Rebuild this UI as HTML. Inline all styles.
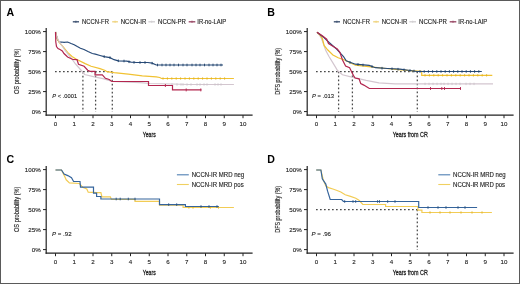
<!DOCTYPE html>
<html><head><meta charset="utf-8"><style>
html,body{margin:0;padding:0;background:#fff;}
#wrap{position:relative;width:520px;height:284px;overflow:hidden;background:#fff;box-sizing:border-box;border:1px solid #5a5a5a;}
svg{position:absolute;left:-1px;top:-1px;will-change:transform;filter:blur(0.3px);}
text{font-family:"Liberation Sans", sans-serif;}
</style></head><body><div id="wrap">
<svg width="520" height="284" viewBox="0 0 520 284" font-family='"Liberation Sans", sans-serif'>
<text x="6.6" y="15.6" font-size="10.6" text-anchor="start" fill="#000" font-weight="bold" >A</text>
<text x="267.3" y="15.6" font-size="10.6" text-anchor="start" fill="#000" font-weight="bold" >B</text>
<text x="6.4" y="162.6" font-size="10.6" text-anchor="start" fill="#000" font-weight="bold" >C</text>
<text x="267.3" y="162.6" font-size="10.6" text-anchor="start" fill="#000" font-weight="bold" >D</text>
<line x1="46.2" y1="27.9" x2="46.2" y2="115.8" stroke="#222" stroke-width="1.2"/>
<line x1="45.6" y1="115.2" x2="252.6" y2="115.2" stroke="#222" stroke-width="1.2"/>
<line x1="43" y1="31.6" x2="46.2" y2="31.6" stroke="#222" stroke-width="1"/>
<text x="40.7" y="33.9" font-size="6.2" text-anchor="end" fill="#1e1e1e" font-weight="normal" stroke="#1e1e1e" stroke-width="0.12">100%</text>
<line x1="43" y1="51.6" x2="46.2" y2="51.6" stroke="#222" stroke-width="1"/>
<text x="40.7" y="53.9" font-size="6.2" text-anchor="end" fill="#1e1e1e" font-weight="normal" stroke="#1e1e1e" stroke-width="0.12">75%</text>
<line x1="43" y1="71.6" x2="46.2" y2="71.6" stroke="#222" stroke-width="1"/>
<text x="40.7" y="73.89999999999999" font-size="6.2" text-anchor="end" fill="#1e1e1e" font-weight="normal" stroke="#1e1e1e" stroke-width="0.12">50%</text>
<line x1="43" y1="91.6" x2="46.2" y2="91.6" stroke="#222" stroke-width="1"/>
<text x="40.7" y="93.89999999999999" font-size="6.2" text-anchor="end" fill="#1e1e1e" font-weight="normal" stroke="#1e1e1e" stroke-width="0.12">25%</text>
<line x1="43" y1="111.6" x2="46.2" y2="111.6" stroke="#222" stroke-width="1"/>
<text x="40.7" y="113.89999999999999" font-size="6.2" text-anchor="end" fill="#1e1e1e" font-weight="normal" stroke="#1e1e1e" stroke-width="0.12">0%</text>
<line x1="55.5" y1="115.2" x2="55.5" y2="118.2" stroke="#222" stroke-width="1"/>
<text x="55.5" y="126.4" font-size="6.2" text-anchor="middle" fill="#1e1e1e" font-weight="normal" stroke="#1e1e1e" stroke-width="0.12">0</text>
<line x1="74.25" y1="115.2" x2="74.25" y2="118.2" stroke="#222" stroke-width="1"/>
<text x="74.25" y="126.4" font-size="6.2" text-anchor="middle" fill="#1e1e1e" font-weight="normal" stroke="#1e1e1e" stroke-width="0.12">1</text>
<line x1="93.0" y1="115.2" x2="93.0" y2="118.2" stroke="#222" stroke-width="1"/>
<text x="93.0" y="126.4" font-size="6.2" text-anchor="middle" fill="#1e1e1e" font-weight="normal" stroke="#1e1e1e" stroke-width="0.12">2</text>
<line x1="111.75" y1="115.2" x2="111.75" y2="118.2" stroke="#222" stroke-width="1"/>
<text x="111.75" y="126.4" font-size="6.2" text-anchor="middle" fill="#1e1e1e" font-weight="normal" stroke="#1e1e1e" stroke-width="0.12">3</text>
<line x1="130.5" y1="115.2" x2="130.5" y2="118.2" stroke="#222" stroke-width="1"/>
<text x="130.5" y="126.4" font-size="6.2" text-anchor="middle" fill="#1e1e1e" font-weight="normal" stroke="#1e1e1e" stroke-width="0.12">4</text>
<line x1="149.25" y1="115.2" x2="149.25" y2="118.2" stroke="#222" stroke-width="1"/>
<text x="149.25" y="126.4" font-size="6.2" text-anchor="middle" fill="#1e1e1e" font-weight="normal" stroke="#1e1e1e" stroke-width="0.12">5</text>
<line x1="168.0" y1="115.2" x2="168.0" y2="118.2" stroke="#222" stroke-width="1"/>
<text x="168.0" y="126.4" font-size="6.2" text-anchor="middle" fill="#1e1e1e" font-weight="normal" stroke="#1e1e1e" stroke-width="0.12">6</text>
<line x1="186.75" y1="115.2" x2="186.75" y2="118.2" stroke="#222" stroke-width="1"/>
<text x="186.75" y="126.4" font-size="6.2" text-anchor="middle" fill="#1e1e1e" font-weight="normal" stroke="#1e1e1e" stroke-width="0.12">7</text>
<line x1="205.5" y1="115.2" x2="205.5" y2="118.2" stroke="#222" stroke-width="1"/>
<text x="205.5" y="126.4" font-size="6.2" text-anchor="middle" fill="#1e1e1e" font-weight="normal" stroke="#1e1e1e" stroke-width="0.12">8</text>
<line x1="224.25" y1="115.2" x2="224.25" y2="118.2" stroke="#222" stroke-width="1"/>
<text x="224.25" y="126.4" font-size="6.2" text-anchor="middle" fill="#1e1e1e" font-weight="normal" stroke="#1e1e1e" stroke-width="0.12">9</text>
<line x1="243.0" y1="115.2" x2="243.0" y2="118.2" stroke="#222" stroke-width="1"/>
<text x="243.0" y="126.4" font-size="6.2" text-anchor="middle" fill="#1e1e1e" font-weight="normal" stroke="#1e1e1e" stroke-width="0.12">10</text>
<text x="142.8" y="137.4" font-size="7.9" text-anchor="start" fill="#1e1e1e" font-weight="normal" textLength="12.9" lengthAdjust="spacingAndGlyphs" stroke="#1e1e1e" stroke-width="0.3">Years</text>
<text transform="translate(19.3,71.3) rotate(-90)" x="0" y="0" font-size="7.8" text-anchor="middle" fill="#2a2a2a" stroke="#2a2a2a" stroke-width="0.15" textLength="45.4" lengthAdjust="spacingAndGlyphs">OS probability (%)</text>
<line x1="307.2" y1="27.9" x2="307.2" y2="115.8" stroke="#222" stroke-width="1.2"/>
<line x1="306.59999999999997" y1="115.2" x2="513.6" y2="115.2" stroke="#222" stroke-width="1.2"/>
<line x1="304" y1="31.6" x2="307.2" y2="31.6" stroke="#222" stroke-width="1"/>
<text x="301.7" y="33.9" font-size="6.2" text-anchor="end" fill="#1e1e1e" font-weight="normal" stroke="#1e1e1e" stroke-width="0.12">100%</text>
<line x1="304" y1="51.6" x2="307.2" y2="51.6" stroke="#222" stroke-width="1"/>
<text x="301.7" y="53.9" font-size="6.2" text-anchor="end" fill="#1e1e1e" font-weight="normal" stroke="#1e1e1e" stroke-width="0.12">75%</text>
<line x1="304" y1="71.6" x2="307.2" y2="71.6" stroke="#222" stroke-width="1"/>
<text x="301.7" y="73.89999999999999" font-size="6.2" text-anchor="end" fill="#1e1e1e" font-weight="normal" stroke="#1e1e1e" stroke-width="0.12">50%</text>
<line x1="304" y1="91.6" x2="307.2" y2="91.6" stroke="#222" stroke-width="1"/>
<text x="301.7" y="93.89999999999999" font-size="6.2" text-anchor="end" fill="#1e1e1e" font-weight="normal" stroke="#1e1e1e" stroke-width="0.12">25%</text>
<line x1="304" y1="111.6" x2="307.2" y2="111.6" stroke="#222" stroke-width="1"/>
<text x="301.7" y="113.89999999999999" font-size="6.2" text-anchor="end" fill="#1e1e1e" font-weight="normal" stroke="#1e1e1e" stroke-width="0.12">0%</text>
<line x1="316.5" y1="115.2" x2="316.5" y2="118.2" stroke="#222" stroke-width="1"/>
<text x="316.5" y="126.4" font-size="6.2" text-anchor="middle" fill="#1e1e1e" font-weight="normal" stroke="#1e1e1e" stroke-width="0.12">0</text>
<line x1="335.25" y1="115.2" x2="335.25" y2="118.2" stroke="#222" stroke-width="1"/>
<text x="335.25" y="126.4" font-size="6.2" text-anchor="middle" fill="#1e1e1e" font-weight="normal" stroke="#1e1e1e" stroke-width="0.12">1</text>
<line x1="354.0" y1="115.2" x2="354.0" y2="118.2" stroke="#222" stroke-width="1"/>
<text x="354.0" y="126.4" font-size="6.2" text-anchor="middle" fill="#1e1e1e" font-weight="normal" stroke="#1e1e1e" stroke-width="0.12">2</text>
<line x1="372.75" y1="115.2" x2="372.75" y2="118.2" stroke="#222" stroke-width="1"/>
<text x="372.75" y="126.4" font-size="6.2" text-anchor="middle" fill="#1e1e1e" font-weight="normal" stroke="#1e1e1e" stroke-width="0.12">3</text>
<line x1="391.5" y1="115.2" x2="391.5" y2="118.2" stroke="#222" stroke-width="1"/>
<text x="391.5" y="126.4" font-size="6.2" text-anchor="middle" fill="#1e1e1e" font-weight="normal" stroke="#1e1e1e" stroke-width="0.12">4</text>
<line x1="410.25" y1="115.2" x2="410.25" y2="118.2" stroke="#222" stroke-width="1"/>
<text x="410.25" y="126.4" font-size="6.2" text-anchor="middle" fill="#1e1e1e" font-weight="normal" stroke="#1e1e1e" stroke-width="0.12">5</text>
<line x1="429.0" y1="115.2" x2="429.0" y2="118.2" stroke="#222" stroke-width="1"/>
<text x="429.0" y="126.4" font-size="6.2" text-anchor="middle" fill="#1e1e1e" font-weight="normal" stroke="#1e1e1e" stroke-width="0.12">6</text>
<line x1="447.75" y1="115.2" x2="447.75" y2="118.2" stroke="#222" stroke-width="1"/>
<text x="447.75" y="126.4" font-size="6.2" text-anchor="middle" fill="#1e1e1e" font-weight="normal" stroke="#1e1e1e" stroke-width="0.12">7</text>
<line x1="466.5" y1="115.2" x2="466.5" y2="118.2" stroke="#222" stroke-width="1"/>
<text x="466.5" y="126.4" font-size="6.2" text-anchor="middle" fill="#1e1e1e" font-weight="normal" stroke="#1e1e1e" stroke-width="0.12">8</text>
<line x1="485.25" y1="115.2" x2="485.25" y2="118.2" stroke="#222" stroke-width="1"/>
<text x="485.25" y="126.4" font-size="6.2" text-anchor="middle" fill="#1e1e1e" font-weight="normal" stroke="#1e1e1e" stroke-width="0.12">9</text>
<line x1="504.0" y1="115.2" x2="504.0" y2="118.2" stroke="#222" stroke-width="1"/>
<text x="504.0" y="126.4" font-size="6.2" text-anchor="middle" fill="#1e1e1e" font-weight="normal" stroke="#1e1e1e" stroke-width="0.12">10</text>
<text x="392.7" y="137.4" font-size="7.9" text-anchor="start" fill="#1e1e1e" font-weight="normal" textLength="35.1" lengthAdjust="spacingAndGlyphs" stroke="#1e1e1e" stroke-width="0.3">Years from CR</text>
<text transform="translate(280.3,71.3) rotate(-90)" x="0" y="0" font-size="7.8" text-anchor="middle" fill="#2a2a2a" stroke="#2a2a2a" stroke-width="0.15" textLength="46.8" lengthAdjust="spacingAndGlyphs">DFS probability (%)</text>
<line x1="46.2" y1="165.9" x2="46.2" y2="253.79999999999998" stroke="#222" stroke-width="1.2"/>
<line x1="45.6" y1="253.2" x2="252.6" y2="253.2" stroke="#222" stroke-width="1.2"/>
<line x1="43" y1="169.6" x2="46.2" y2="169.6" stroke="#222" stroke-width="1"/>
<text x="40.7" y="171.9" font-size="6.2" text-anchor="end" fill="#1e1e1e" font-weight="normal" stroke="#1e1e1e" stroke-width="0.12">100%</text>
<line x1="43" y1="189.6" x2="46.2" y2="189.6" stroke="#222" stroke-width="1"/>
<text x="40.7" y="191.9" font-size="6.2" text-anchor="end" fill="#1e1e1e" font-weight="normal" stroke="#1e1e1e" stroke-width="0.12">75%</text>
<line x1="43" y1="209.6" x2="46.2" y2="209.6" stroke="#222" stroke-width="1"/>
<text x="40.7" y="211.9" font-size="6.2" text-anchor="end" fill="#1e1e1e" font-weight="normal" stroke="#1e1e1e" stroke-width="0.12">50%</text>
<line x1="43" y1="229.6" x2="46.2" y2="229.6" stroke="#222" stroke-width="1"/>
<text x="40.7" y="231.9" font-size="6.2" text-anchor="end" fill="#1e1e1e" font-weight="normal" stroke="#1e1e1e" stroke-width="0.12">25%</text>
<line x1="43" y1="249.6" x2="46.2" y2="249.6" stroke="#222" stroke-width="1"/>
<text x="40.7" y="251.9" font-size="6.2" text-anchor="end" fill="#1e1e1e" font-weight="normal" stroke="#1e1e1e" stroke-width="0.12">0%</text>
<line x1="55.5" y1="253.2" x2="55.5" y2="256.2" stroke="#222" stroke-width="1"/>
<text x="55.5" y="264.4" font-size="6.2" text-anchor="middle" fill="#1e1e1e" font-weight="normal" stroke="#1e1e1e" stroke-width="0.12">0</text>
<line x1="74.25" y1="253.2" x2="74.25" y2="256.2" stroke="#222" stroke-width="1"/>
<text x="74.25" y="264.4" font-size="6.2" text-anchor="middle" fill="#1e1e1e" font-weight="normal" stroke="#1e1e1e" stroke-width="0.12">1</text>
<line x1="93.0" y1="253.2" x2="93.0" y2="256.2" stroke="#222" stroke-width="1"/>
<text x="93.0" y="264.4" font-size="6.2" text-anchor="middle" fill="#1e1e1e" font-weight="normal" stroke="#1e1e1e" stroke-width="0.12">2</text>
<line x1="111.75" y1="253.2" x2="111.75" y2="256.2" stroke="#222" stroke-width="1"/>
<text x="111.75" y="264.4" font-size="6.2" text-anchor="middle" fill="#1e1e1e" font-weight="normal" stroke="#1e1e1e" stroke-width="0.12">3</text>
<line x1="130.5" y1="253.2" x2="130.5" y2="256.2" stroke="#222" stroke-width="1"/>
<text x="130.5" y="264.4" font-size="6.2" text-anchor="middle" fill="#1e1e1e" font-weight="normal" stroke="#1e1e1e" stroke-width="0.12">4</text>
<line x1="149.25" y1="253.2" x2="149.25" y2="256.2" stroke="#222" stroke-width="1"/>
<text x="149.25" y="264.4" font-size="6.2" text-anchor="middle" fill="#1e1e1e" font-weight="normal" stroke="#1e1e1e" stroke-width="0.12">5</text>
<line x1="168.0" y1="253.2" x2="168.0" y2="256.2" stroke="#222" stroke-width="1"/>
<text x="168.0" y="264.4" font-size="6.2" text-anchor="middle" fill="#1e1e1e" font-weight="normal" stroke="#1e1e1e" stroke-width="0.12">6</text>
<line x1="186.75" y1="253.2" x2="186.75" y2="256.2" stroke="#222" stroke-width="1"/>
<text x="186.75" y="264.4" font-size="6.2" text-anchor="middle" fill="#1e1e1e" font-weight="normal" stroke="#1e1e1e" stroke-width="0.12">7</text>
<line x1="205.5" y1="253.2" x2="205.5" y2="256.2" stroke="#222" stroke-width="1"/>
<text x="205.5" y="264.4" font-size="6.2" text-anchor="middle" fill="#1e1e1e" font-weight="normal" stroke="#1e1e1e" stroke-width="0.12">8</text>
<line x1="224.25" y1="253.2" x2="224.25" y2="256.2" stroke="#222" stroke-width="1"/>
<text x="224.25" y="264.4" font-size="6.2" text-anchor="middle" fill="#1e1e1e" font-weight="normal" stroke="#1e1e1e" stroke-width="0.12">9</text>
<line x1="243.0" y1="253.2" x2="243.0" y2="256.2" stroke="#222" stroke-width="1"/>
<text x="243.0" y="264.4" font-size="6.2" text-anchor="middle" fill="#1e1e1e" font-weight="normal" stroke="#1e1e1e" stroke-width="0.12">10</text>
<text x="142.8" y="275.4" font-size="7.9" text-anchor="start" fill="#1e1e1e" font-weight="normal" textLength="12.9" lengthAdjust="spacingAndGlyphs" stroke="#1e1e1e" stroke-width="0.3">Years</text>
<text transform="translate(19.3,209.3) rotate(-90)" x="0" y="0" font-size="7.8" text-anchor="middle" fill="#2a2a2a" stroke="#2a2a2a" stroke-width="0.15" textLength="45.4" lengthAdjust="spacingAndGlyphs">OS probability (%)</text>
<line x1="307.2" y1="165.9" x2="307.2" y2="253.79999999999998" stroke="#222" stroke-width="1.2"/>
<line x1="306.59999999999997" y1="253.2" x2="513.6" y2="253.2" stroke="#222" stroke-width="1.2"/>
<line x1="304" y1="169.6" x2="307.2" y2="169.6" stroke="#222" stroke-width="1"/>
<text x="301.7" y="171.9" font-size="6.2" text-anchor="end" fill="#1e1e1e" font-weight="normal" stroke="#1e1e1e" stroke-width="0.12">100%</text>
<line x1="304" y1="189.6" x2="307.2" y2="189.6" stroke="#222" stroke-width="1"/>
<text x="301.7" y="191.9" font-size="6.2" text-anchor="end" fill="#1e1e1e" font-weight="normal" stroke="#1e1e1e" stroke-width="0.12">75%</text>
<line x1="304" y1="209.6" x2="307.2" y2="209.6" stroke="#222" stroke-width="1"/>
<text x="301.7" y="211.9" font-size="6.2" text-anchor="end" fill="#1e1e1e" font-weight="normal" stroke="#1e1e1e" stroke-width="0.12">50%</text>
<line x1="304" y1="229.6" x2="307.2" y2="229.6" stroke="#222" stroke-width="1"/>
<text x="301.7" y="231.9" font-size="6.2" text-anchor="end" fill="#1e1e1e" font-weight="normal" stroke="#1e1e1e" stroke-width="0.12">25%</text>
<line x1="304" y1="249.6" x2="307.2" y2="249.6" stroke="#222" stroke-width="1"/>
<text x="301.7" y="251.9" font-size="6.2" text-anchor="end" fill="#1e1e1e" font-weight="normal" stroke="#1e1e1e" stroke-width="0.12">0%</text>
<line x1="316.5" y1="253.2" x2="316.5" y2="256.2" stroke="#222" stroke-width="1"/>
<text x="316.5" y="264.4" font-size="6.2" text-anchor="middle" fill="#1e1e1e" font-weight="normal" stroke="#1e1e1e" stroke-width="0.12">0</text>
<line x1="335.25" y1="253.2" x2="335.25" y2="256.2" stroke="#222" stroke-width="1"/>
<text x="335.25" y="264.4" font-size="6.2" text-anchor="middle" fill="#1e1e1e" font-weight="normal" stroke="#1e1e1e" stroke-width="0.12">1</text>
<line x1="354.0" y1="253.2" x2="354.0" y2="256.2" stroke="#222" stroke-width="1"/>
<text x="354.0" y="264.4" font-size="6.2" text-anchor="middle" fill="#1e1e1e" font-weight="normal" stroke="#1e1e1e" stroke-width="0.12">2</text>
<line x1="372.75" y1="253.2" x2="372.75" y2="256.2" stroke="#222" stroke-width="1"/>
<text x="372.75" y="264.4" font-size="6.2" text-anchor="middle" fill="#1e1e1e" font-weight="normal" stroke="#1e1e1e" stroke-width="0.12">3</text>
<line x1="391.5" y1="253.2" x2="391.5" y2="256.2" stroke="#222" stroke-width="1"/>
<text x="391.5" y="264.4" font-size="6.2" text-anchor="middle" fill="#1e1e1e" font-weight="normal" stroke="#1e1e1e" stroke-width="0.12">4</text>
<line x1="410.25" y1="253.2" x2="410.25" y2="256.2" stroke="#222" stroke-width="1"/>
<text x="410.25" y="264.4" font-size="6.2" text-anchor="middle" fill="#1e1e1e" font-weight="normal" stroke="#1e1e1e" stroke-width="0.12">5</text>
<line x1="429.0" y1="253.2" x2="429.0" y2="256.2" stroke="#222" stroke-width="1"/>
<text x="429.0" y="264.4" font-size="6.2" text-anchor="middle" fill="#1e1e1e" font-weight="normal" stroke="#1e1e1e" stroke-width="0.12">6</text>
<line x1="447.75" y1="253.2" x2="447.75" y2="256.2" stroke="#222" stroke-width="1"/>
<text x="447.75" y="264.4" font-size="6.2" text-anchor="middle" fill="#1e1e1e" font-weight="normal" stroke="#1e1e1e" stroke-width="0.12">7</text>
<line x1="466.5" y1="253.2" x2="466.5" y2="256.2" stroke="#222" stroke-width="1"/>
<text x="466.5" y="264.4" font-size="6.2" text-anchor="middle" fill="#1e1e1e" font-weight="normal" stroke="#1e1e1e" stroke-width="0.12">8</text>
<line x1="485.25" y1="253.2" x2="485.25" y2="256.2" stroke="#222" stroke-width="1"/>
<text x="485.25" y="264.4" font-size="6.2" text-anchor="middle" fill="#1e1e1e" font-weight="normal" stroke="#1e1e1e" stroke-width="0.12">9</text>
<line x1="504.0" y1="253.2" x2="504.0" y2="256.2" stroke="#222" stroke-width="1"/>
<text x="504.0" y="264.4" font-size="6.2" text-anchor="middle" fill="#1e1e1e" font-weight="normal" stroke="#1e1e1e" stroke-width="0.12">10</text>
<text x="392.7" y="275.4" font-size="7.9" text-anchor="start" fill="#1e1e1e" font-weight="normal" textLength="35.1" lengthAdjust="spacingAndGlyphs" stroke="#1e1e1e" stroke-width="0.3">Years from CR</text>
<text transform="translate(280.3,209.3) rotate(-90)" x="0" y="0" font-size="7.8" text-anchor="middle" fill="#2a2a2a" stroke="#2a2a2a" stroke-width="0.15" textLength="46.8" lengthAdjust="spacingAndGlyphs">DFS probability (%)</text>
<line x1="72.8" y1="21.8" x2="79.0" y2="21.8" stroke="#34496a" stroke-width="1.3"/>
<line x1="75.9" y1="20.6" x2="75.9" y2="23" stroke="#34496a" stroke-width="0.7"/>
<text x="82.1" y="24.0" font-size="6.4" text-anchor="start" fill="#1a1a1a" font-weight="normal" textLength="26.8" lengthAdjust="spacingAndGlyphs" stroke="#1a1a1a" stroke-width="0.12">NCCN-FR</text>
<line x1="112.2" y1="21.8" x2="117.9" y2="21.8" stroke="#efd27a" stroke-width="1.3"/>
<line x1="115.1" y1="20.6" x2="115.1" y2="23" stroke="#efd27a" stroke-width="0.7"/>
<text x="120.7" y="24.0" font-size="6.4" text-anchor="start" fill="#1a1a1a" font-weight="normal" textLength="25.6" lengthAdjust="spacingAndGlyphs" stroke="#1a1a1a" stroke-width="0.12">NCCN-IR</text>
<line x1="148.4" y1="21.8" x2="155.0" y2="21.8" stroke="#d0cdd0" stroke-width="1.3"/>
<line x1="151.7" y1="20.6" x2="151.7" y2="23" stroke="#d0cdd0" stroke-width="0.7"/>
<text x="158.0" y="24.0" font-size="6.4" text-anchor="start" fill="#1a1a1a" font-weight="normal" textLength="28.0" lengthAdjust="spacingAndGlyphs" stroke="#1a1a1a" stroke-width="0.12">NCCN-PR</text>
<line x1="188.7" y1="21.8" x2="195.3" y2="21.8" stroke="#94405e" stroke-width="1.3"/>
<line x1="192.0" y1="20.6" x2="192.0" y2="23" stroke="#94405e" stroke-width="0.7"/>
<text x="197.3" y="24.0" font-size="6.4" text-anchor="start" fill="#1a1a1a" font-weight="normal" textLength="29.0" lengthAdjust="spacingAndGlyphs" stroke="#1a1a1a" stroke-width="0.12">IR-no-LAIP</text>
<line x1="333.8" y1="21.8" x2="340.0" y2="21.8" stroke="#34496a" stroke-width="1.3"/>
<line x1="336.9" y1="20.6" x2="336.9" y2="23" stroke="#34496a" stroke-width="0.7"/>
<text x="343.1" y="24.0" font-size="6.4" text-anchor="start" fill="#1a1a1a" font-weight="normal" textLength="26.8" lengthAdjust="spacingAndGlyphs" stroke="#1a1a1a" stroke-width="0.12">NCCN-FR</text>
<line x1="373.2" y1="21.8" x2="378.9" y2="21.8" stroke="#efd27a" stroke-width="1.3"/>
<line x1="376.1" y1="20.6" x2="376.1" y2="23" stroke="#efd27a" stroke-width="0.7"/>
<text x="381.7" y="24.0" font-size="6.4" text-anchor="start" fill="#1a1a1a" font-weight="normal" textLength="25.6" lengthAdjust="spacingAndGlyphs" stroke="#1a1a1a" stroke-width="0.12">NCCN-IR</text>
<line x1="409.4" y1="21.8" x2="416.0" y2="21.8" stroke="#d0cdd0" stroke-width="1.3"/>
<line x1="412.7" y1="20.6" x2="412.7" y2="23" stroke="#d0cdd0" stroke-width="0.7"/>
<text x="419.0" y="24.0" font-size="6.4" text-anchor="start" fill="#1a1a1a" font-weight="normal" textLength="28.0" lengthAdjust="spacingAndGlyphs" stroke="#1a1a1a" stroke-width="0.12">NCCN-PR</text>
<line x1="449.7" y1="21.8" x2="456.3" y2="21.8" stroke="#94405e" stroke-width="1.3"/>
<line x1="453.0" y1="20.6" x2="453.0" y2="23" stroke="#94405e" stroke-width="0.7"/>
<text x="458.3" y="24.0" font-size="6.4" text-anchor="start" fill="#1a1a1a" font-weight="normal" textLength="29.0" lengthAdjust="spacingAndGlyphs" stroke="#1a1a1a" stroke-width="0.12">IR-no-LAIP</text>
<line x1="176.9" y1="174.8" x2="188.8" y2="174.8" stroke="#4f7fb3" stroke-width="1.1"/>
<line x1="176.9" y1="184.5" x2="188.8" y2="184.5" stroke="#f0d060" stroke-width="1.1"/>
<text x="191.7" y="177.1" font-size="6.4" text-anchor="start" fill="#1a1a1a" font-weight="normal" textLength="52.5" lengthAdjust="spacingAndGlyphs" stroke="#1a1a1a" stroke-width="0.12">NCCN-IR MRD neg</text>
<text x="191.7" y="186.8" font-size="6.4" text-anchor="start" fill="#1a1a1a" font-weight="normal" textLength="52.0" lengthAdjust="spacingAndGlyphs" stroke="#1a1a1a" stroke-width="0.12">NCCN-IR MRD pos</text>
<line x1="438.29999999999995" y1="174.8" x2="450.2" y2="174.8" stroke="#4f7fb3" stroke-width="1.1"/>
<line x1="438.29999999999995" y1="184.5" x2="450.2" y2="184.5" stroke="#f0d060" stroke-width="1.1"/>
<text x="453.09999999999997" y="177.1" font-size="6.4" text-anchor="start" fill="#1a1a1a" font-weight="normal" textLength="52.5" lengthAdjust="spacingAndGlyphs" stroke="#1a1a1a" stroke-width="0.12">NCCN-IR MRD neg</text>
<text x="453.09999999999997" y="186.8" font-size="6.4" text-anchor="start" fill="#1a1a1a" font-weight="normal" textLength="52.0" lengthAdjust="spacingAndGlyphs" stroke="#1a1a1a" stroke-width="0.12">NCCN-IR MRD pos</text>
<text x="52.3" y="97.8" font-size="6" fill="#1a1a1a" stroke="#1a1a1a" stroke-width="0.1" textLength="24.8" lengthAdjust="spacingAndGlyphs"><tspan font-style="italic">P</tspan> &lt; .0001</text>
<text x="312.0" y="97.8" font-size="6" fill="#1a1a1a" stroke="#1a1a1a" stroke-width="0.1" textLength="22.0" lengthAdjust="spacingAndGlyphs"><tspan font-style="italic">P</tspan> = .013</text>
<text x="52.0" y="235.5" font-size="6" fill="#1a1a1a" stroke="#1a1a1a" stroke-width="0.1" textLength="19.6" lengthAdjust="spacingAndGlyphs"><tspan font-style="italic">P</tspan> = .92</text>
<text x="311.5" y="235.6" font-size="6" fill="#1a1a1a" stroke="#1a1a1a" stroke-width="0.1" textLength="19.5" lengthAdjust="spacingAndGlyphs"><tspan font-style="italic">P</tspan> = .96</text>
<line x1="55.0" y1="71.7" x2="112.3" y2="71.7" stroke="#4a4a4a" stroke-width="1.25" stroke-dasharray="1.7 2.3"/>
<line x1="82.9" y1="71.7" x2="82.9" y2="112" stroke="#4a4a4a" stroke-width="1.25" stroke-dasharray="1.7 2.3"/>
<line x1="95.6" y1="71.7" x2="95.6" y2="112" stroke="#4a4a4a" stroke-width="1.25" stroke-dasharray="1.7 2.3"/>
<line x1="112.3" y1="71.7" x2="112.3" y2="112" stroke="#4a4a4a" stroke-width="1.25" stroke-dasharray="1.7 2.3"/>
<line x1="316.0" y1="71.6" x2="417.3" y2="71.6" stroke="#4a4a4a" stroke-width="1.25" stroke-dasharray="1.7 2.3"/>
<line x1="338.6" y1="71.6" x2="338.6" y2="112" stroke="#4a4a4a" stroke-width="1.25" stroke-dasharray="1.7 2.3"/>
<line x1="352.4" y1="71.6" x2="352.4" y2="112" stroke="#4a4a4a" stroke-width="1.25" stroke-dasharray="1.7 2.3"/>
<line x1="417.3" y1="71.6" x2="417.3" y2="112" stroke="#4a4a4a" stroke-width="1.25" stroke-dasharray="1.7 2.3"/>
<line x1="316.0" y1="209.6" x2="417.3" y2="209.6" stroke="#4a4a4a" stroke-width="1.25" stroke-dasharray="1.7 2.3"/>
<line x1="417.3" y1="209.6" x2="417.3" y2="250" stroke="#4a4a4a" stroke-width="1.25" stroke-dasharray="1.7 2.3"/>
<polyline points="55.5,32.0 57.5,39.6 59.3,42.2 61.4,42.0 64.1,42.3 67.6,42.0 71.1,43.5 74.2,44.7 77.3,46.6 80.4,48.3 84.0,49.5 88.0,51.5 92.3,53.5 95.3,54.2 100.0,55.5 104.2,56.6 109.9,57.6 114.1,59.7 118.3,60.8 126.8,61.1 131.0,62.1 136.6,62.5 147.9,62.5 152.1,63.2 156.3,65.0 223.0,65.0" fill="none" stroke="#274a78" stroke-width="1.2" stroke-linejoin="miter"/>
<polyline points="55.5,32.0 57.5,39.6 60.0,43.5 63.0,46.6 67.6,52.4 72.0,56.5 76.4,59.2 85.2,63.6 91.1,66.3 100.0,68.6 105.2,70.5 107.0,71.7 114.1,72.7 128.2,74.2 142.3,75.9 156.3,76.9 159.8,77.5 161.5,78.5 233.9,78.5" fill="none" stroke="#f1c232" stroke-width="1.2" stroke-linejoin="miter"/>
<line x1="163.0" y1="77.3" x2="163.0" y2="79.7" stroke="#e0b020" stroke-width="0.8"/>
<line x1="167.4" y1="77.3" x2="167.4" y2="79.7" stroke="#e0b020" stroke-width="0.8"/>
<line x1="171.8" y1="77.3" x2="171.8" y2="79.7" stroke="#e0b020" stroke-width="0.8"/>
<line x1="176.2" y1="77.3" x2="176.2" y2="79.7" stroke="#e0b020" stroke-width="0.8"/>
<line x1="180.6" y1="77.3" x2="180.6" y2="79.7" stroke="#e0b020" stroke-width="0.8"/>
<line x1="185.0" y1="77.3" x2="185.0" y2="79.7" stroke="#e0b020" stroke-width="0.8"/>
<line x1="189.4" y1="77.3" x2="189.4" y2="79.7" stroke="#e0b020" stroke-width="0.8"/>
<line x1="193.8" y1="77.3" x2="193.8" y2="79.7" stroke="#e0b020" stroke-width="0.8"/>
<line x1="198.2" y1="77.3" x2="198.2" y2="79.7" stroke="#e0b020" stroke-width="0.8"/>
<line x1="202.6" y1="77.3" x2="202.6" y2="79.7" stroke="#e0b020" stroke-width="0.8"/>
<line x1="207.0" y1="77.3" x2="207.0" y2="79.7" stroke="#e0b020" stroke-width="0.8"/>
<line x1="211.4" y1="77.3" x2="211.4" y2="79.7" stroke="#e0b020" stroke-width="0.8"/>
<line x1="215.8" y1="77.3" x2="215.8" y2="79.7" stroke="#e0b020" stroke-width="0.8"/>
<line x1="220.2" y1="77.3" x2="220.2" y2="79.7" stroke="#e0b020" stroke-width="0.8"/>
<line x1="224.6" y1="77.3" x2="224.6" y2="79.7" stroke="#e0b020" stroke-width="0.8"/>
<polyline points="55.5,32.0 56.5,36.0 58.5,40.5 61.5,45.0 65.5,51.0 70.0,56.5 75.6,64.0 81.3,70.5 84.6,74.5 95.4,77.2 103.0,78.7 112.3,81.4 140.0,82.6 150.0,83.5 172.5,84.0 188.5,84.5 233.9,84.5" fill="none" stroke="#d3c6cf" stroke-width="1.2" stroke-linejoin="miter"/>
<line x1="172.0" y1="83.3" x2="172.0" y2="85.7" stroke="#c9c2c8" stroke-width="0.8"/>
<line x1="177.0" y1="83.3" x2="177.0" y2="85.7" stroke="#c9c2c8" stroke-width="0.8"/>
<line x1="181.0" y1="83.3" x2="181.0" y2="85.7" stroke="#c9c2c8" stroke-width="0.8"/>
<line x1="183.0" y1="83.3" x2="183.0" y2="85.7" stroke="#c9c2c8" stroke-width="0.8"/>
<line x1="187.0" y1="83.3" x2="187.0" y2="85.7" stroke="#c9c2c8" stroke-width="0.8"/>
<line x1="191.0" y1="83.3" x2="191.0" y2="85.7" stroke="#c9c2c8" stroke-width="0.8"/>
<line x1="197.0" y1="83.3" x2="197.0" y2="85.7" stroke="#c9c2c8" stroke-width="0.8"/>
<line x1="200.0" y1="83.3" x2="200.0" y2="85.7" stroke="#c9c2c8" stroke-width="0.8"/>
<line x1="204.0" y1="83.3" x2="204.0" y2="85.7" stroke="#c9c2c8" stroke-width="0.8"/>
<line x1="207.0" y1="83.3" x2="207.0" y2="85.7" stroke="#c9c2c8" stroke-width="0.8"/>
<line x1="215.0" y1="83.3" x2="215.0" y2="85.7" stroke="#c9c2c8" stroke-width="0.8"/>
<line x1="218.0" y1="83.3" x2="218.0" y2="85.7" stroke="#c9c2c8" stroke-width="0.8"/>
<line x1="221.0" y1="83.3" x2="221.0" y2="85.7" stroke="#c9c2c8" stroke-width="0.8"/>
<line x1="157.5" y1="63.7" x2="157.5" y2="66.3" stroke="#1d4068" stroke-width="0.9"/>
<line x1="162.0" y1="63.7" x2="162.0" y2="66.3" stroke="#1d4068" stroke-width="0.9"/>
<line x1="166.0" y1="63.7" x2="166.0" y2="66.3" stroke="#1d4068" stroke-width="0.9"/>
<line x1="170.0" y1="63.7" x2="170.0" y2="66.3" stroke="#1d4068" stroke-width="0.9"/>
<line x1="174.0" y1="63.7" x2="174.0" y2="66.3" stroke="#1d4068" stroke-width="0.9"/>
<line x1="178.5" y1="63.7" x2="178.5" y2="66.3" stroke="#1d4068" stroke-width="0.9"/>
<line x1="183.0" y1="63.7" x2="183.0" y2="66.3" stroke="#1d4068" stroke-width="0.9"/>
<line x1="187.0" y1="63.7" x2="187.0" y2="66.3" stroke="#1d4068" stroke-width="0.9"/>
<line x1="192.0" y1="63.7" x2="192.0" y2="66.3" stroke="#1d4068" stroke-width="0.9"/>
<line x1="196.0" y1="63.7" x2="196.0" y2="66.3" stroke="#1d4068" stroke-width="0.9"/>
<line x1="200.0" y1="63.7" x2="200.0" y2="66.3" stroke="#1d4068" stroke-width="0.9"/>
<line x1="204.5" y1="63.7" x2="204.5" y2="66.3" stroke="#1d4068" stroke-width="0.9"/>
<line x1="209.0" y1="63.7" x2="209.0" y2="66.3" stroke="#1d4068" stroke-width="0.9"/>
<line x1="213.0" y1="63.7" x2="213.0" y2="66.3" stroke="#1d4068" stroke-width="0.9"/>
<line x1="217.0" y1="63.7" x2="217.0" y2="66.3" stroke="#1d4068" stroke-width="0.9"/>
<line x1="221.0" y1="63.7" x2="221.0" y2="66.3" stroke="#1d4068" stroke-width="0.9"/>
<line x1="104.2" y1="55.3" x2="104.2" y2="57.9" stroke="#1d4068" stroke-width="0.9"/>
<line x1="110.0" y1="56.3" x2="110.0" y2="58.9" stroke="#1d4068" stroke-width="0.9"/>
<line x1="118.3" y1="59.5" x2="118.3" y2="62.1" stroke="#1d4068" stroke-width="0.9"/>
<line x1="124.0" y1="59.7" x2="124.0" y2="62.3" stroke="#1d4068" stroke-width="0.9"/>
<line x1="129.0" y1="60.5" x2="129.0" y2="63.1" stroke="#1d4068" stroke-width="0.9"/>
<line x1="134.0" y1="61.1" x2="134.0" y2="63.7" stroke="#1d4068" stroke-width="0.9"/>
<line x1="140.0" y1="61.2" x2="140.0" y2="63.8" stroke="#1d4068" stroke-width="0.9"/>
<line x1="145.0" y1="61.2" x2="145.0" y2="63.8" stroke="#1d4068" stroke-width="0.9"/>
<line x1="152.1" y1="61.9" x2="152.1" y2="64.5" stroke="#1d4068" stroke-width="0.9"/>
<polyline points="55.5,32.0 55.8,42.0 56.5,46.6 58.0,48.5 60.0,49.5 62.3,50.9 64.0,53.5 67.6,57.0 72.9,59.5 77.0,59.7 78.5,64.2 84.1,66.3 87.7,70.2 90.0,71.4 95.0,71.4 95.0,74.8 102.3,74.8 105.4,78.3 109.2,79.5 111.9,81.5 148.5,81.5 148.5,85.5 172.5,85.5 172.5,89.9 201.5,89.9" fill="none" stroke="#b3264f" stroke-width="1.2" stroke-linejoin="miter"/>
<line x1="165.4" y1="84.0" x2="165.4" y2="87.0" stroke="#b3264f" stroke-width="0.9"/>
<line x1="186.2" y1="88.4" x2="186.2" y2="91.4" stroke="#b3264f" stroke-width="0.9"/>
<line x1="200.8" y1="88.4" x2="200.8" y2="91.4" stroke="#b3264f" stroke-width="0.9"/>
<polyline points="317.0,32.2 319.0,34.5 321.4,38.3 325.8,50.6 329.0,56.5 332.9,62.9 337.7,70.8 342.4,74.8 351.9,77.2 366.2,80.4 378.9,82.9 395.0,83.9 493.0,83.9" fill="none" stroke="#d3c6cf" stroke-width="1.2" stroke-linejoin="miter"/>
<line x1="425.0" y1="82.7" x2="425.0" y2="85.1" stroke="#c9c2c8" stroke-width="0.8"/>
<line x1="429.0" y1="82.7" x2="429.0" y2="85.1" stroke="#c9c2c8" stroke-width="0.8"/>
<line x1="433.0" y1="82.7" x2="433.0" y2="85.1" stroke="#c9c2c8" stroke-width="0.8"/>
<line x1="437.0" y1="82.7" x2="437.0" y2="85.1" stroke="#c9c2c8" stroke-width="0.8"/>
<line x1="441.0" y1="82.7" x2="441.0" y2="85.1" stroke="#c9c2c8" stroke-width="0.8"/>
<line x1="444.0" y1="82.7" x2="444.0" y2="85.1" stroke="#c9c2c8" stroke-width="0.8"/>
<line x1="448.0" y1="82.7" x2="448.0" y2="85.1" stroke="#c9c2c8" stroke-width="0.8"/>
<line x1="452.0" y1="82.7" x2="452.0" y2="85.1" stroke="#c9c2c8" stroke-width="0.8"/>
<line x1="456.0" y1="82.7" x2="456.0" y2="85.1" stroke="#c9c2c8" stroke-width="0.8"/>
<line x1="460.0" y1="82.7" x2="460.0" y2="85.1" stroke="#c9c2c8" stroke-width="0.8"/>
<line x1="466.0" y1="82.7" x2="466.0" y2="85.1" stroke="#c9c2c8" stroke-width="0.8"/>
<line x1="470.0" y1="82.7" x2="470.0" y2="85.1" stroke="#c9c2c8" stroke-width="0.8"/>
<line x1="474.0" y1="82.7" x2="474.0" y2="85.1" stroke="#c9c2c8" stroke-width="0.8"/>
<polyline points="317.0,32.2 320.0,35.0 322.3,38.3 324.1,45.4 327.6,49.8 332.9,55.0 338.2,57.7 344.6,60.0 355.4,65.2 370.8,66.9 386.2,68.5 398.5,69.7 410.0,70.6 421.7,71.3 421.7,75.3 492.3,75.3" fill="none" stroke="#f1c232" stroke-width="1.2" stroke-linejoin="miter"/>
<line x1="425.0" y1="74.1" x2="425.0" y2="76.5" stroke="#e0b020" stroke-width="0.8"/>
<line x1="429.4" y1="74.1" x2="429.4" y2="76.5" stroke="#e0b020" stroke-width="0.8"/>
<line x1="433.8" y1="74.1" x2="433.8" y2="76.5" stroke="#e0b020" stroke-width="0.8"/>
<line x1="438.2" y1="74.1" x2="438.2" y2="76.5" stroke="#e0b020" stroke-width="0.8"/>
<line x1="442.6" y1="74.1" x2="442.6" y2="76.5" stroke="#e0b020" stroke-width="0.8"/>
<line x1="447.0" y1="74.1" x2="447.0" y2="76.5" stroke="#e0b020" stroke-width="0.8"/>
<line x1="451.4" y1="74.1" x2="451.4" y2="76.5" stroke="#e0b020" stroke-width="0.8"/>
<line x1="455.8" y1="74.1" x2="455.8" y2="76.5" stroke="#e0b020" stroke-width="0.8"/>
<line x1="460.2" y1="74.1" x2="460.2" y2="76.5" stroke="#e0b020" stroke-width="0.8"/>
<line x1="464.6" y1="74.1" x2="464.6" y2="76.5" stroke="#e0b020" stroke-width="0.8"/>
<line x1="469.0" y1="74.1" x2="469.0" y2="76.5" stroke="#e0b020" stroke-width="0.8"/>
<line x1="473.4" y1="74.1" x2="473.4" y2="76.5" stroke="#e0b020" stroke-width="0.8"/>
<line x1="477.8" y1="74.1" x2="477.8" y2="76.5" stroke="#e0b020" stroke-width="0.8"/>
<line x1="482.2" y1="74.1" x2="482.2" y2="76.5" stroke="#e0b020" stroke-width="0.8"/>
<line x1="486.6" y1="74.1" x2="486.6" y2="76.5" stroke="#e0b020" stroke-width="0.8"/>
<polyline points="317.0,32.2 320.0,34.5 323.2,36.9 329.4,42.7 336.4,48.9 343.5,56.5 346.2,60.8 355.4,64.2 369.2,65.4 375.4,67.7 387.7,68.5 400.0,69.2 410.0,70.5 417.0,71.5 481.8,71.5" fill="none" stroke="#274a78" stroke-width="1.2" stroke-linejoin="miter"/>
<line x1="420.0" y1="70.2" x2="420.0" y2="72.8" stroke="#1d4068" stroke-width="0.9"/>
<line x1="424.2" y1="70.2" x2="424.2" y2="72.8" stroke="#1d4068" stroke-width="0.9"/>
<line x1="428.4" y1="70.2" x2="428.4" y2="72.8" stroke="#1d4068" stroke-width="0.9"/>
<line x1="432.6" y1="70.2" x2="432.6" y2="72.8" stroke="#1d4068" stroke-width="0.9"/>
<line x1="436.8" y1="70.2" x2="436.8" y2="72.8" stroke="#1d4068" stroke-width="0.9"/>
<line x1="441.0" y1="70.2" x2="441.0" y2="72.8" stroke="#1d4068" stroke-width="0.9"/>
<line x1="445.2" y1="70.2" x2="445.2" y2="72.8" stroke="#1d4068" stroke-width="0.9"/>
<line x1="449.4" y1="70.2" x2="449.4" y2="72.8" stroke="#1d4068" stroke-width="0.9"/>
<line x1="453.6" y1="70.2" x2="453.6" y2="72.8" stroke="#1d4068" stroke-width="0.9"/>
<line x1="457.8" y1="70.2" x2="457.8" y2="72.8" stroke="#1d4068" stroke-width="0.9"/>
<line x1="462.0" y1="70.2" x2="462.0" y2="72.8" stroke="#1d4068" stroke-width="0.9"/>
<line x1="466.2" y1="70.2" x2="466.2" y2="72.8" stroke="#1d4068" stroke-width="0.9"/>
<line x1="470.4" y1="70.2" x2="470.4" y2="72.8" stroke="#1d4068" stroke-width="0.9"/>
<line x1="474.6" y1="70.2" x2="474.6" y2="72.8" stroke="#1d4068" stroke-width="0.9"/>
<line x1="478.8" y1="70.2" x2="478.8" y2="72.8" stroke="#1d4068" stroke-width="0.9"/>
<line x1="350.0" y1="61.2" x2="350.0" y2="63.8" stroke="#1d4068" stroke-width="0.9"/>
<line x1="358.0" y1="63.2" x2="358.0" y2="65.8" stroke="#1d4068" stroke-width="0.9"/>
<line x1="363.0" y1="63.7" x2="363.0" y2="66.3" stroke="#1d4068" stroke-width="0.9"/>
<line x1="372.0" y1="65.2" x2="372.0" y2="67.8" stroke="#1d4068" stroke-width="0.9"/>
<line x1="382.0" y1="66.9" x2="382.0" y2="69.5" stroke="#1d4068" stroke-width="0.9"/>
<line x1="392.0" y1="67.5" x2="392.0" y2="70.1" stroke="#1d4068" stroke-width="0.9"/>
<line x1="398.0" y1="67.9" x2="398.0" y2="70.5" stroke="#1d4068" stroke-width="0.9"/>
<line x1="404.0" y1="68.5" x2="404.0" y2="71.1" stroke="#1d4068" stroke-width="0.9"/>
<line x1="410.0" y1="69.2" x2="410.0" y2="71.8" stroke="#1d4068" stroke-width="0.9"/>
<line x1="414.0" y1="69.7" x2="414.0" y2="72.3" stroke="#1d4068" stroke-width="0.9"/>
<polyline points="317.0,32.2 322.3,35.7 326.7,39.2 328.5,43.6 332.9,46.2 337.3,48.9 339.9,52.4 342.4,59.8 345.6,66.1 349.6,67.7 351.1,70.8 353.5,75.6 355.1,78.0 359.1,78.8 360.7,83.5 363.8,85.1 367.8,87.5 369.4,88.5 461.0,88.5" fill="none" stroke="#b3264f" stroke-width="1.2" stroke-linejoin="miter"/>
<line x1="430.5" y1="87.0" x2="430.5" y2="90.0" stroke="#b3264f" stroke-width="0.9"/>
<line x1="441.8" y1="87.0" x2="441.8" y2="90.0" stroke="#b3264f" stroke-width="0.9"/>
<line x1="444.5" y1="87.0" x2="444.5" y2="90.0" stroke="#b3264f" stroke-width="0.9"/>
<line x1="460.5" y1="87.0" x2="460.5" y2="90.0" stroke="#b3264f" stroke-width="0.9"/>
<polyline points="55.5,170.0 61.5,170.0 64.7,176.6 66.2,179.8 69.4,182.9 79.4,183.5 82.6,187.2 86.8,189.0 88.2,192.2 96.6,192.7 100.9,192.7 101.9,196.9 110.4,196.9 111.4,199.4 135.0,199.4 135.0,201.4 159.5,201.4 159.5,205.2 183.1,205.2 183.1,207.5 233.9,207.5" fill="none" stroke="#f2cc55" stroke-width="1.2" stroke-linejoin="miter"/>
<line x1="188.9" y1="206.3" x2="188.9" y2="208.7" stroke="#e0b020" stroke-width="0.8"/>
<line x1="193.0" y1="206.3" x2="193.0" y2="208.7" stroke="#e0b020" stroke-width="0.8"/>
<line x1="210.4" y1="206.3" x2="210.4" y2="208.7" stroke="#e0b020" stroke-width="0.8"/>
<line x1="218.5" y1="206.3" x2="218.5" y2="208.7" stroke="#e0b020" stroke-width="0.8"/>
<polyline points="55.5,170.0 61.5,170.0 64.1,174.0 67.8,175.6 71.5,177.7 73.6,181.5 80.0,181.5 80.5,187.2 93.5,187.2 93.5,193.2 96.6,193.2 96.6,196.5 100.9,196.5 100.9,199.0 159.5,199.0 159.5,204.6 185.4,204.6 185.4,206.5 218.8,206.5" fill="none" stroke="#35649c" stroke-width="1.2" stroke-linejoin="miter"/>
<line x1="116.2" y1="197.7" x2="116.2" y2="200.3" stroke="#264f80" stroke-width="0.9"/>
<line x1="120.2" y1="197.7" x2="120.2" y2="200.3" stroke="#264f80" stroke-width="0.9"/>
<line x1="128.3" y1="197.7" x2="128.3" y2="200.3" stroke="#264f80" stroke-width="0.9"/>
<line x1="135.0" y1="197.7" x2="135.0" y2="200.3" stroke="#264f80" stroke-width="0.9"/>
<line x1="168.7" y1="203.3" x2="168.7" y2="205.9" stroke="#264f80" stroke-width="0.9"/>
<line x1="176.7" y1="203.3" x2="176.7" y2="205.9" stroke="#264f80" stroke-width="0.9"/>
<line x1="201.0" y1="205.2" x2="201.0" y2="207.8" stroke="#264f80" stroke-width="0.9"/>
<line x1="209.0" y1="205.2" x2="209.0" y2="207.8" stroke="#264f80" stroke-width="0.9"/>
<line x1="217.0" y1="205.2" x2="217.0" y2="207.8" stroke="#264f80" stroke-width="0.9"/>
<polyline points="316.2,170.0 320.9,170.0 323.2,179.7 325.8,185.9 328.5,187.6 332.9,189.0 336.4,190.3 340.8,192.0 345.2,194.7 350.5,196.4 355.8,198.2 359.3,200.5 362.8,204.5 385.6,204.5 385.6,206.5 417.9,206.5 417.9,210.2 421.9,210.2 421.9,212.5 491.9,212.5" fill="none" stroke="#f2cc55" stroke-width="1.2" stroke-linejoin="miter"/>
<line x1="430.0" y1="211.3" x2="430.0" y2="213.7" stroke="#e0b020" stroke-width="0.8"/>
<line x1="440.0" y1="211.3" x2="440.0" y2="213.7" stroke="#e0b020" stroke-width="0.8"/>
<line x1="450.0" y1="211.3" x2="450.0" y2="213.7" stroke="#e0b020" stroke-width="0.8"/>
<line x1="461.0" y1="211.3" x2="461.0" y2="213.7" stroke="#e0b020" stroke-width="0.8"/>
<line x1="472.0" y1="211.3" x2="472.0" y2="213.7" stroke="#e0b020" stroke-width="0.8"/>
<line x1="482.0" y1="211.3" x2="482.0" y2="213.7" stroke="#e0b020" stroke-width="0.8"/>
<polyline points="316.2,170.0 320.9,170.0 322.3,178.8 325.8,184.1 327.6,191.2 330.2,199.5 341.7,199.5 343.4,201.5 418.7,201.5 418.7,207.5 477.1,207.5" fill="none" stroke="#35649c" stroke-width="1.2" stroke-linejoin="miter"/>
<line x1="344.7" y1="200.2" x2="344.7" y2="202.8" stroke="#264f80" stroke-width="0.9"/>
<line x1="353.0" y1="200.2" x2="353.0" y2="202.8" stroke="#264f80" stroke-width="0.9"/>
<line x1="355.7" y1="200.2" x2="355.7" y2="202.8" stroke="#264f80" stroke-width="0.9"/>
<line x1="377.6" y1="200.2" x2="377.6" y2="202.8" stroke="#264f80" stroke-width="0.9"/>
<line x1="379.5" y1="200.2" x2="379.5" y2="202.8" stroke="#264f80" stroke-width="0.9"/>
<line x1="387.7" y1="200.2" x2="387.7" y2="202.8" stroke="#264f80" stroke-width="0.9"/>
<line x1="395.0" y1="200.2" x2="395.0" y2="202.8" stroke="#264f80" stroke-width="0.9"/>
<line x1="428.0" y1="206.2" x2="428.0" y2="208.8" stroke="#264f80" stroke-width="0.9"/>
<line x1="438.0" y1="206.2" x2="438.0" y2="208.8" stroke="#264f80" stroke-width="0.9"/>
<line x1="446.0" y1="206.2" x2="446.0" y2="208.8" stroke="#264f80" stroke-width="0.9"/>
<line x1="458.0" y1="206.2" x2="458.0" y2="208.8" stroke="#264f80" stroke-width="0.9"/>
<line x1="465.0" y1="206.2" x2="465.0" y2="208.8" stroke="#264f80" stroke-width="0.9"/>
</svg></div></body></html>
